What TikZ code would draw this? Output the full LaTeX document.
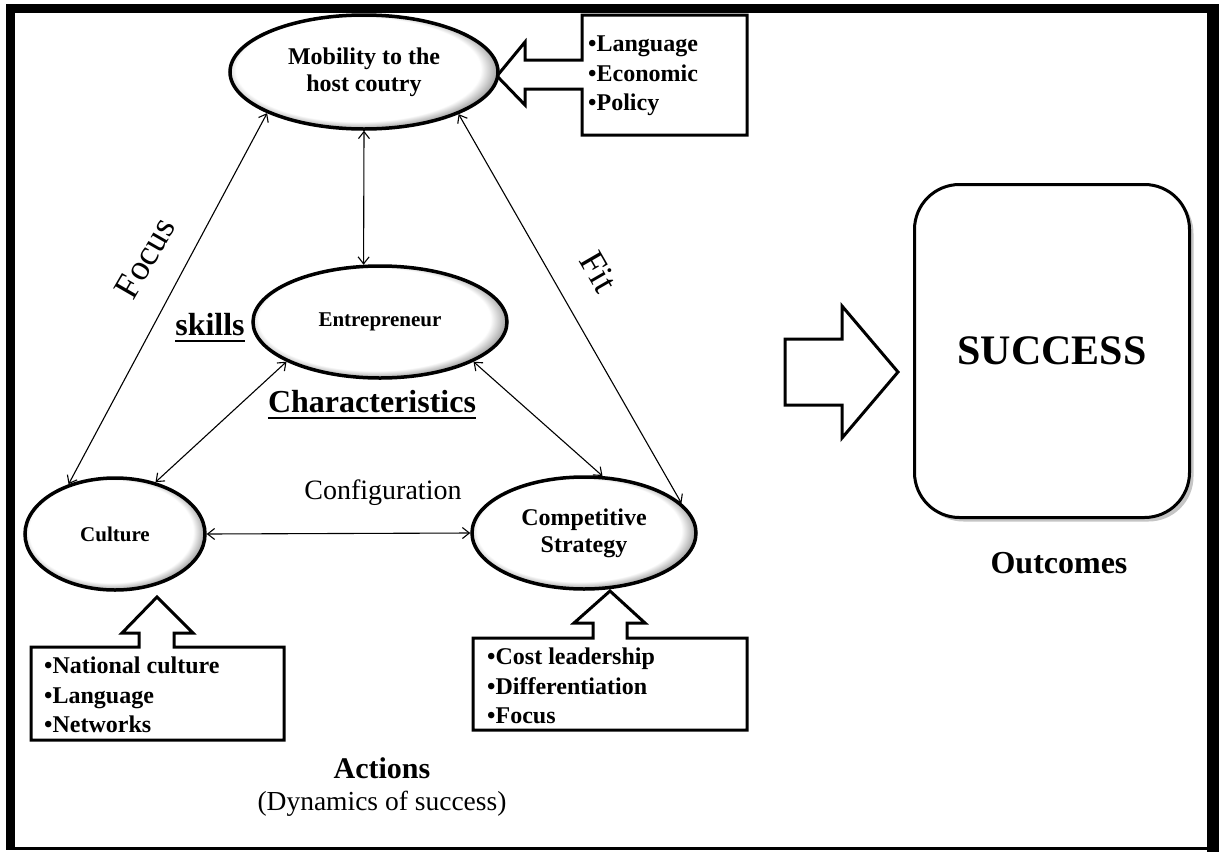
\documentclass[tikz,border=0pt]{standalone}
\usepackage{fontspec}
\setmainfont{Liberation Serif}
\usetikzlibrary{arrows.meta,shapes.geometric,shadows}
\pgfdeclareradialshading{innershadow}{\pgfpoint{-2bp}{2bp}}{%
  color(0bp)=(white); color(22.8bp)=(white); color(27.5bp)=(black!55); color(50bp)=(black!55)}
\tikzset{
  oval/.style={ellipse, draw, line width=3.5pt, shading=innershadow, inner sep=0pt,
    align=center, font=\bfseries\fontsize{24}{27}\selectfont},
  link/.style={line width=1.1pt, {Straight Barb[length=7pt,width=11pt]}-{Straight Barb[length=7pt,width=11pt]}},
  inbox/.style={line width=3pt, fill=white, line join=miter},
  listtext/.style={anchor=west, align=left, inner sep=0pt, font=\bfseries\fontsize{24}{29.5}\selectfont},
  uline/.style={line width=2.5pt},
}
\begin{document}
\begin{tikzpicture}[x=1pt,y=-1pt]
\useasboundingbox (0,0) rectangle (1219,852);
\fill[white] (0,0) rectangle (1219,852);
% frame
\fill[black] (6,4) rectangle (15,850);
\fill[black] (6,4) rectangle (1219,13);
\fill[black] (1207,4) rectangle (1219,852);
\fill[black] (6,847) rectangle (1219,850);

% input boxes with arrows
\draw[inbox] (582,15) -- (747,15) -- (747,135) -- (582,135) -- (582,89) -- (525,89) -- (525,105)
  -- (497,76) -- (525,42) -- (525,60) -- (582,60) -- cycle;
\node[listtext] (lst1) at (588,76) {•Language\\•Economic\\•Policy};

\draw[inbox] (31,647) -- (139,647) -- (139,633) -- (122,633) -- (157,597) -- (193,633) -- (174,633)
  -- (174,647) -- (284,647) -- (284,740) -- (31,740) -- cycle;
\node[listtext] (lst2) at (44,695) {•National culture\\•Language\\•Networks};

\draw[inbox] (473,638) -- (593,638) -- (593,623) -- (574,623) -- (610,591) -- (645,623) -- (627,623)
  -- (627,638) -- (747,638) -- (747,730) -- (473,730) -- cycle;
\node[listtext] (lst3) at (487,686) {•Cost leadership\\•Differentiation\\•Focus};

% ovals
\node[oval, minimum width=268pt, minimum height=114pt] (mob) at (364,72) {Mobility to the\\host coutry};
\node[oval, minimum width=254pt, minimum height=112pt, font=\bfseries\fontsize{21}{26}\selectfont] (ent) at (380,322) {Entrepreneur};
\node[oval, minimum width=180pt, minimum height=112pt, font=\bfseries\fontsize{21}{26}\selectfont] (cul) at (115,534) {Culture};
\node[oval, minimum width=224pt, minimum height=112pt] (comp) at (584,533) {Competitive\\Strategy};

% connectors
\draw[link] (mob.south) -- (ent.106);
\draw[link] (mob.203.6) -- (cul.133);
\draw[link] (mob.336.4) -- (comp.17);
\draw[link] (ent.203) -- (cul.52);
\draw[link] (ent.337) -- (comp.72);
\draw[link] (cul.east) -- (comp.west);

% labels
\node[rotate=60, font=\fontsize{36}{36}\selectfont] (focus) at (145,258) {Focus};
\node[rotate=-60, font=\fontsize{36}{36}\selectfont] (fit) at (599,272) {Fit};
\node[font=\fontsize{28}{28}\selectfont] (conf) at (383,493) {Configuration};
\node[inner sep=0pt, font=\bfseries\fontsize{32}{32}\selectfont] (skills) at (210,325) {skills};
\draw[uline] ([yshift=-5pt]skills.base west) -- ([yshift=-5pt]skills.base east);
\node[inner sep=0pt, font=\bfseries\fontsize{32}{32}\selectfont] (chr) at (372,402) {Characteristics};
\draw[uline] ([yshift=-5pt]chr.base west) -- ([yshift=-5pt]chr.base east);

\node[font=\bfseries\fontsize{30}{30}\selectfont] (act) at (382,768) {Actions};
\node[font=\fontsize{27.5}{27.5}\selectfont] (dyn) at (382,804) {(Dynamics of success)};

% big arrow and success
\draw[inbox] (785,339) -- (842,339) -- (842,306) -- (898,372) -- (842,438) -- (842,405) -- (785,405) -- cycle;
\node[draw, line width=3pt, rounded corners=45pt, minimum width=275pt, minimum height=333pt, fill=white,
  drop shadow={shadow xshift=4pt, shadow yshift=-4pt, opacity=0.45}, inner sep=0pt,
  font=\bfseries\fontsize{42}{42}\selectfont] (succ) at (1052,351) {SUCCESS};
\node[font=\bfseries\fontsize{32}{32}\selectfont] (out) at (1059,563) {Outcomes};
\end{tikzpicture}
\end{document}
